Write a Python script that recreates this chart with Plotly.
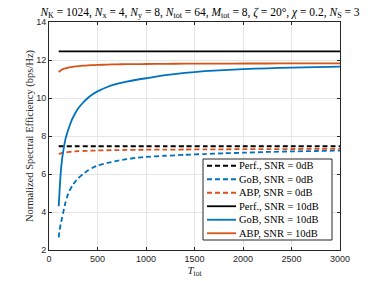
import plotly.graph_objects as go

T = [100, 110, 120, 135, 150, 170, 190, 210, 240, 270, 300, 350, 400, 450, 500,
     600, 700, 800, 900, 1000, 1200, 1400, 1600, 1800, 2000, 2250, 2500, 2750, 3000]

perf_0 = [7.46] * len(T)
perf_10 = [12.45] * len(T)

gob_10 = [4.30, 5.2, 6.0, 6.8, 7.3, 7.85, 8.2, 8.5, 8.9, 9.2, 9.45, 9.75, 10.0, 10.2, 10.35,
          10.58, 10.74, 10.86, 10.96, 11.04, 11.20, 11.32, 11.41, 11.47, 11.52, 11.56, 11.60, 11.63, 11.65]
gob_0 = [2.66, 3.05, 3.35, 3.7, 4.05, 4.5, 4.85, 5.1, 5.38, 5.6, 5.77, 6.0, 6.18, 6.33, 6.44,
         6.58, 6.69, 6.78, 6.85, 6.90, 6.96, 7.01, 7.05, 7.09, 7.12, 7.16, 7.19, 7.21, 7.23]
abp_10 = [11.36, 11.41, 11.45, 11.50, 11.53, 11.56, 11.59, 11.61, 11.64, 11.66, 11.68, 11.70, 11.72, 11.73, 11.74,
          11.76, 11.77, 11.78, 11.785, 11.79, 11.80, 11.805, 11.81, 11.81, 11.815, 11.815, 11.82, 11.82, 11.82]
abp_0 = [7.05, 7.07, 7.09, 7.11, 7.12, 7.14, 7.15, 7.16, 7.18, 7.19, 7.20, 7.21, 7.22, 7.23, 7.24,
         7.25, 7.26, 7.265, 7.27, 7.28, 7.285, 7.29, 7.30, 7.30, 7.31, 7.31, 7.315, 7.32, 7.32]

legend_labels = ["Perf., SNR = 0dB", "GoB, SNR = 0dB", "ABP, SNR = 0dB",
                 "Perf., SNR = 10dB", "GoB, SNR = 10dB", "ABP, SNR = 10dB"]

BLUE = "#0072BD"
ORANGE = "#D95319"
BLACK = "#000000"
DASH = "5px,3px"

series = [
    (legend_labels[0], perf_0, BLACK, DASH),
    (legend_labels[1], gob_0, BLUE, DASH),
    (legend_labels[2], abp_0, ORANGE, DASH),
    (legend_labels[3], perf_10, BLACK, "solid"),
    (legend_labels[4], gob_10, BLUE, "solid"),
    (legend_labels[5], abp_10, ORANGE, "solid"),
]

W, H = 375, 281
ML, MR, MT, MB = 49, 35, 22, 31
PW, PH = W - ML - MR, H - MT - MB


def px_x(px):
    return (px - ML) / PW


def px_y(py):
    return (H - MB - py) / PH


fig = go.Figure()
for name, ys, col, dash in series:
    fig.add_trace(go.Scatter(x=T, y=ys, mode="lines", name=name, showlegend=False,
                             line=dict(color=col, width=1.8, dash=dash, shape="spline", smoothing=0.6)))

serif = "Liberation Serif, Times New Roman, serif"
sans = "Liberation Sans, Arial, sans-serif"

# compact MATLAB-style legend box
box_l, box_r, box_t, box_b = 203, 332, 159, 240
fig.add_shape(type="rect", xref="paper", yref="paper",
              x0=px_x(box_l), x1=px_x(box_r), y0=px_y(box_b), y1=px_y(box_t),
              line=dict(color="#262626", width=1), fillcolor="white", layer="above")
row_h = (box_b - box_t) / 6
for i, (name, ys, col, dash) in enumerate(series):
    cy = box_t + row_h * (i + 0.5)
    fig.add_shape(type="line", xref="paper", yref="paper",
                  x0=px_x(207), x1=px_x(236), y0=px_y(cy), y1=px_y(cy),
                  line=dict(color=col, width=1.8, dash=dash), layer="above")
    fig.add_annotation(xref="paper", yref="paper", x=px_x(237), y=px_y(cy),
                       xanchor="left", yanchor="middle", showarrow=False, text=name,
                       font=dict(family=serif, size=10.5, color="black"))

title = ("<i>N</i><sub>K</sub> = 1024, <i>N</i><sub>x</sub> = 4, <i>N</i><sub>y</sub> = 8, "
         "<i>N</i><sub>tot</sub> = 64, <i>M</i><sub>tot</sub> = 8, <i>ζ</i> = 20°, <i>χ</i> = 0.2, <i>N</i><sub>S</sub> = 3")

axis_common = dict(showgrid=True, gridcolor="#e6e6e6", gridwidth=1, zeroline=False,
                   showline=True, linecolor="#262626", linewidth=1, mirror="ticks",
                   ticks="inside", ticklen=3, tickcolor="#262626", automargin=False,
                   tickfont=dict(family=sans, size=9, color="#262626"))

fig.update_layout(
    width=W, height=H,
    margin=dict(l=ML, r=MR, t=MT, b=MB),
    paper_bgcolor="white", plot_bgcolor="white",
    hovermode=False,
    title=dict(text=title, x=200 / W, xanchor="center", y=1 - 12 / H, yanchor="middle",
               font=dict(family=serif, size=11.5, color="black")),
    xaxis=dict(range=[0, 3000], tickvals=[0, 500, 1000, 1500, 2000, 2500, 3000],
               title=dict(text="<i>T</i><sub>tot</sub>", font=dict(family=serif, size=11, color="#262626"), standoff=2),
               **axis_common),
    yaxis=dict(range=[2, 14], tickvals=[2, 4, 6, 8, 10, 12, 14],
               title=dict(text="Normalized Spectral Efficiency (bps/Hz)", font=dict(family=serif, size=10.5, color="#262626"), standoff=0),
               **axis_common),
    showlegend=False,
)

# remove the default 8px page margin so the figure sits at the window's top-left corner
fig.write_html("out.html", config={"displayModeBar": False},
               post_script="document.body.style.margin='0';")
